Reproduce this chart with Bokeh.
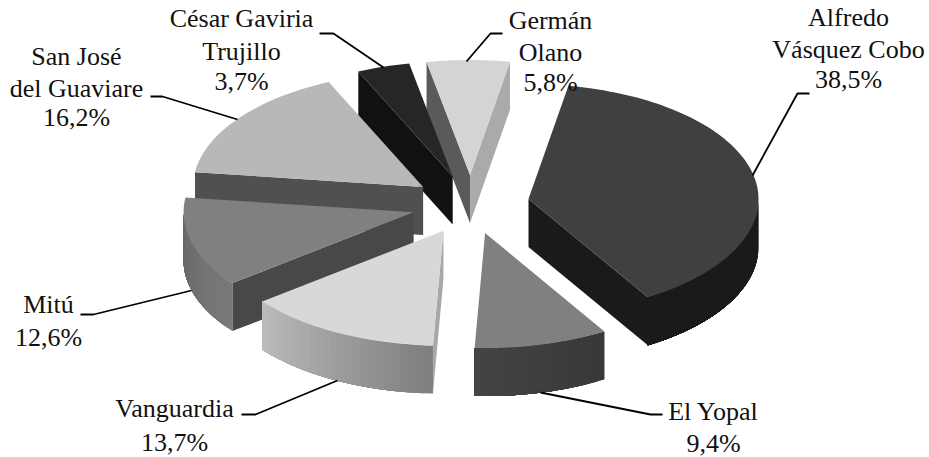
import math
from bokeh.plotting import figure
from bokeh.models import ColumnDataSource, Range1d
from bokeh.core.properties import value
from bokeh.embed import file_html
from bokeh.resources import INLINE

# ---- data -------------------------------------------------------------
categories = ["Alfredo Vásquez Cobo", "El Yopal", "Vanguardia", "Mitú",
              "San José del Guaviare", "César Gaviria Trujillo", "Germán Olano"]
shares = [38.5, 9.4, 13.7, 12.6, 16.2, 3.7, 5.8]
label_lines = [["Alfredo", "Vásquez Cobo"], ["El Yopal"], ["Vanguardia"], ["Mitú"],
               ["San José", "del Guaviare"], ["César Gaviria", "Trujillo"], ["Germán", "Olano"]]

# ---- styles (grey levels) ----------------------------------------------
top_grey = [0x40, 0x80, 0xd8, 0x80, 0xb8, 0x26, 0xd4]
rim_grey_left = [0x1a, 0x44, 0xbc, 0x66, 0x50, 0x11, 0x5a]
rim_grey_right = [0x1a, 0x38, 0x7e, 0x7a, 0x50, 0x11, 0xaa]
start_wall_grey = [0x1a, 0x38, 0xa8, 0x48, 0x50, 0x11, 0x5a]
end_wall_grey = [0x1a, 0x38, 0xa8, 0x48, 0x50, 0x11, 0xaa]

# ---- layout ------------------------------------------------------------
CX, CY, RX, RY, EXPLODE, DEPTH = 470, 204, 230, 115, 59, 48
START = 10.0
W, H = 929, 457
FONT = "Liberation Serif"
FONT_SIZE = "26px"
# centre x and the centre y of each line, for each label
label_pos = [(848, (16.5, 48.5, 78.5)), (713, (410.5, 443)), (174, (407.5, 441.5)), (48, (303.5, 336.5)),
             (76, (55.5, 87.5, 116.5)), (241, (17.5, 50.5, 80.5)), (550, (19.5, 51.5, 81.5))]
leaders = [[(809, 93), (797, 93), (752, 175)],
           [(662, 414), (650, 414), (540, 392)],
           [(241, 414), (255, 414), (337, 380)],
           [(80, 314), (93, 314), (191, 290)],
           [(150, 96), (162, 96), (237, 119)],
           [(319, 33), (333, 33), (383, 67)],
           [(502, 33), (490, 33), (466, 61)]]


def grey(g):
    g = int(round(g))
    return f"#{g:02x}{g:02x}{g:02x}"


def pt(ax, ay, theta):
    t = math.radians(theta)
    return ax + RX * math.sin(t), ay - RY * math.cos(t)


p = figure(width=W, height=H, output_backend="svg", toolbar_location=None,
           x_range=Range1d(0, W), y_range=Range1d(H, 0),
           min_border=0, outline_line_color=None, background_fill_color="white")
p.axis.visible = False
p.grid.visible = False

total = sum(shares)
slices = []
a = START
for i, s in enumerate(shares):
    span = 360.0 * s / total
    mid = math.radians(a + span / 2)
    ax = CX + EXPLODE * math.sin(mid)
    ay = CY - EXPLODE * 0.5 * math.cos(mid)
    slices.append(dict(i=i, a0=a, a1=a + span, ax=ax, ay=ay))
    a += span

xs, ys, colors = [], [], []


def add(poly, c):
    xs.append([q[0] for q in poly])
    ys.append([q[1] for q in poly])
    colors.append(c)


for sl in sorted(slices, key=lambda d: d["ay"]):
    i, a0, a1, ax, ay = sl["i"], sl["a0"], sl["a1"], sl["ax"], sl["ay"]
    # radial walls that face the viewer
    if math.sin(math.radians(a0)) < 0:
        o = pt(ax, ay, a0)
        add([(ax, ay), o, (o[0], o[1] + DEPTH), (ax, ay + DEPTH)], grey(start_wall_grey[i]))
    if math.sin(math.radians(a1)) > 0:
        o = pt(ax, ay, a1)
        add([(ax, ay), o, (o[0], o[1] + DEPTH), (ax, ay + DEPTH)], grey(end_wall_grey[i]))
    # outer rim: lower half only, shaded strips painted so each one overlaps
    # everything left of it, which leaves no seams
    lo, hi = max(a0, 90), min(a1, 270)
    if hi > lo:
        n = max(2, int((hi - lo) / 2))
        for k in range(n):
            t0 = lo + (hi - lo) * k / n
            f = (k + 0.5) / n  # 0 = right end of arc, 1 = left end
            g = rim_grey_right[i] + (rim_grey_left[i] - rim_grey_right[i]) * f
            arc = [pt(ax, ay, t0 + (hi - t0) * j / 24) for j in range(25)]
            add(arc + [(q[0], q[1] + DEPTH) for q in reversed(arc)], grey(g))
    # top face
    n = max(8, int((a1 - a0) / 1.5))
    poly = [(ax, ay)] + [pt(ax, ay, a0 + (a1 - a0) * k / n) for k in range(n + 1)]
    add(poly, grey(top_grey[i]))

p.patches("xs", "ys", fill_color="colors", line_color=None,
          source=ColumnDataSource(dict(xs=xs, ys=ys, colors=colors)))

# leaders
p.multi_line([[q[0] for q in l] for l in leaders], [[q[1] for q in l] for l in leaders],
             line_color="black", line_width=1.8)

# labels
tx, ty, tt = [], [], []
for lines, s, (cx, rows_y) in zip(label_lines, shares, label_pos):
    rows = lines + [f"{s:.1f}".replace(".", ",") + "%"]
    for row, y in zip(rows, rows_y):
        tx.append(cx)
        ty.append(y)
        tt.append(row)
p.text(tx, ty, text=tt, text_font=value(FONT), text_font_size=value(FONT_SIZE),
       text_color="#111111", text_align="center", text_baseline="middle")

open("out.html", "w").write(file_html(p, INLINE))
